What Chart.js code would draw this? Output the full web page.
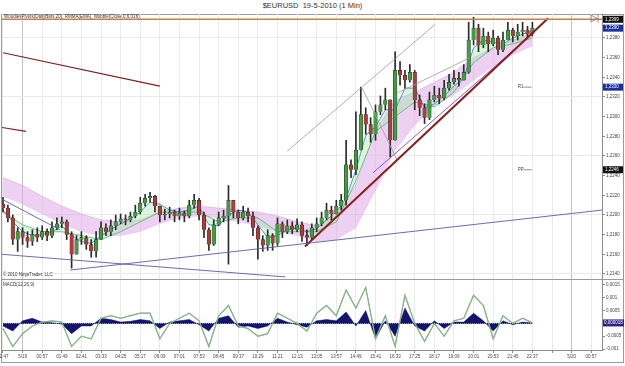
<!DOCTYPE html>
<html>
<head>
<meta charset="utf-8">
<script src="https://cdn.jsdelivr.net/npm/chart.js@4.4.1/dist/chart.umd.min.js"></script>
<style>
  body { margin: 0; background: #fff; font-family: "Liberation Sans", Arial, sans-serif; }
  #wrap { position: relative; width: 625px; height: 366px; overflow: hidden; }
  .txt { position: absolute; white-space: nowrap; color: #333; line-height: 1; }
  canvas { position: absolute; left: 0; }
</style>
</head>
<body>
<div id="wrap">
  <div style="position:absolute;left:1px;top:14px;width:621px;height:347px;border:1px solid #9a9a9a;"></div>
  <div style="position:absolute;left:1px;top:279px;width:623px;height:1px;background:#9a9a9a;"></div>
  <canvas id="price" width="625" height="265" style="top:14px"></canvas>
  <canvas id="macd" width="625" height="86" style="top:280px"></canvas>
  <div class="txt" style="left:0;top:2px;width:625px;text-align:center;font-size:7.5px;">$EURUSD&nbsp; 19-5-2010 (1 Min)</div>
  <div class="txt" style="left:4px;top:15px;font-size:4.5px;">WoodiesPivots(DailyBars,20), RMMA(EMA), Wobble(Close,0,6,036)</div>
  <div class="txt" style="left:3px;top:273px;font-size:4.5px;">© 2010 NinjaTrader, LLC</div>
  <div class="txt" style="left:3px;top:283px;font-size:4.5px;">MACD(12,26,9)</div>
</div>
<script>
// time axis labels, one every 4 bars
const timeLabels = ['22:47','5/19','00:57','01:49','02:41','03:33','04:25','05:17','06:09','07:01',
  '07:53','08:45','09:37','10:29','11:21','12:13','13:05','13:57','14:49','15:41',
  '16:33','17:25','18:17','19:09','20:01','20:53','21:45','22:37','','5/20','00:57'];
const dayBreaks = [4, 116];

// price bars (13 min each)
const opens = [1.2211,1.2207,1.2197,1.2175,1.2183,1.2177,1.2173,1.2180,1.2177,1.2183,
  1.2179,1.2187,1.2191,1.2193,1.2180,1.2160,1.2175,1.2177,1.2170,1.2163,
  1.2175,1.2187,1.2183,1.2189,1.2193,1.2196,1.2195,1.2199,1.2203,1.2212,
  1.2217,1.2219,1.2209,1.2200,1.2201,1.2203,1.2199,1.2202,1.2199,1.2210,
  1.2215,1.2200,1.2185,1.2170,1.2190,1.2197,1.2199,1.2215,1.2203,1.2197,
  1.2203,1.2199,1.2187,1.2175,1.2169,1.2179,1.2171,1.2191,1.2183,1.2189,
  1.2185,1.2190,1.2179,1.2177,1.2187,1.2191,1.2197,1.2205,1.2201,1.2209,
  1.2215,1.2251,1.2246,1.2266,1.2302,1.2292,1.2282,1.2305,1.2312,1.2317,
  1.2276,1.2347,1.2342,1.2337,1.2345,1.2317,1.2309,1.2299,1.2317,1.2322,
  1.2319,1.2329,1.2335,1.2339,1.2337,1.2345,1.2378,1.2390,1.2373,1.2382,
  1.2374,1.2380,1.2368,1.2378,1.2388,1.2382,1.2386,1.2388,1.2384];
const highs = [1.2218,1.2210,1.2200,1.2187,1.2187,1.2183,1.2185,1.2187,1.2189,1.2186,
  1.2193,1.2197,1.2198,1.2195,1.2183,1.2179,1.2183,1.2179,1.2175,1.2183,
  1.2193,1.2191,1.2195,1.2200,1.2201,1.2200,1.2203,1.2210,1.2218,1.2221,
  1.2223,1.2220,1.2209,1.2206,1.2208,1.2205,1.2207,1.2204,1.2215,1.2221,
  1.2217,1.2203,1.2187,1.2195,1.2203,1.2205,1.2230,1.2215,1.2205,1.2209,
  1.2207,1.2203,1.2189,1.2179,1.2185,1.2181,1.2197,1.2193,1.2195,1.2193,
  1.2196,1.2193,1.2185,1.2191,1.2197,1.2203,1.2212,1.2209,1.2215,1.2221,
  1.2276,1.2256,1.2305,1.2330,1.2309,1.2299,1.2312,1.2321,1.2329,1.2317,
  1.2366,1.2356,1.2347,1.2353,1.2347,1.2322,1.2313,1.2325,1.2331,1.2329,
  1.2337,1.2343,1.2347,1.2345,1.2353,1.2396,1.2401,1.2394,1.2390,1.2386,
  1.2388,1.2382,1.2386,1.2396,1.2390,1.2394,1.2396,1.2392,1.2396];
const lows = [1.2203,1.2193,1.2170,1.2163,1.2170,1.2167,1.2169,1.2173,1.2175,1.2174,
  1.2177,1.2185,1.2187,1.2175,1.2146,1.2160,1.2170,1.2165,1.2157,1.2157,
  1.2175,1.2179,1.2179,1.2185,1.2191,1.2190,1.2193,1.2197,1.2201,1.2209,
  1.2213,1.2203,1.2193,1.2195,1.2197,1.2193,1.2195,1.2193,1.2197,1.2207,
  1.2195,1.2177,1.2164,1.2169,1.2189,1.2193,1.2150,1.2197,1.2191,1.2195,
  1.2193,1.2179,1.2155,1.2163,1.2164,1.2164,1.2169,1.2177,1.2181,1.2181,
  1.2183,1.2173,1.2169,1.2175,1.2183,1.2189,1.2195,1.2195,1.2201,1.2205,
  1.2210,1.2238,1.2241,1.2266,1.2282,1.2274,1.2276,1.2302,1.2307,1.2259,
  1.2276,1.2332,1.2329,1.2335,1.2307,1.2301,1.2293,1.2297,1.2315,1.2313,
  1.2317,1.2327,1.2333,1.2331,1.2337,1.2344,1.2373,1.2366,1.2370,1.2366,
  1.2372,1.2363,1.2366,1.2378,1.2376,1.2378,1.2382,1.2380,1.2382];
const closes = [1.2207,1.2197,1.2175,1.2183,1.2177,1.2173,1.2180,1.2177,1.2183,1.2179,
  1.2187,1.2191,1.2193,1.2180,1.2160,1.2175,1.2177,1.2170,1.2163,1.2175,
  1.2187,1.2183,1.2189,1.2193,1.2196,1.2195,1.2199,1.2203,1.2212,1.2217,
  1.2219,1.2209,1.2200,1.2201,1.2203,1.2199,1.2202,1.2199,1.2210,1.2215,
  1.2200,1.2185,1.2170,1.2190,1.2197,1.2199,1.2215,1.2203,1.2197,1.2203,
  1.2199,1.2187,1.2175,1.2169,1.2179,1.2171,1.2191,1.2183,1.2189,1.2185,
  1.2190,1.2179,1.2177,1.2187,1.2191,1.2197,1.2205,1.2201,1.2209,1.2215,
  1.2251,1.2246,1.2266,1.2302,1.2292,1.2282,1.2305,1.2312,1.2317,1.2276,
  1.2347,1.2342,1.2337,1.2345,1.2317,1.2309,1.2299,1.2317,1.2322,1.2319,
  1.2329,1.2335,1.2339,1.2337,1.2345,1.2378,1.2390,1.2373,1.2382,1.2374,
  1.2380,1.2368,1.2378,1.2388,1.2382,1.2386,1.2388,1.2384,1.2390];

// ribbon averages: fast one every 2 bars, slow one and the band every 4 bars
const maFast = [1.2205,1.2193,1.2183,1.2179,1.2180,1.2183,1.2189,1.2179,1.2173,1.2171,
  1.2179,1.2185,1.2191,1.2196,1.2203,1.2213,1.2211,1.2205,1.2203,1.2205,
  1.2209,1.2190,1.2189,1.2200,1.2205,1.2203,1.2190,1.2177,1.2179,1.2185,
  1.2187,1.2183,1.2186,1.2195,1.2203,1.2217,1.2246,1.2281,1.2290,1.2307,
  1.2307,1.2329,1.2329,1.2309,1.2313,1.2321,1.2331,1.2339,1.2370,1.2378,
  1.2376,1.2374,1.2380,1.2384,1.2387];
const maSlow = [1.2203,1.2190,1.2183,1.2183,1.2179,1.2175,1.2183,1.2193,1.2203,1.2203,
  1.2203,1.2193,1.2197,1.2197,1.2183,1.2183,1.2183,1.2193,1.2235,1.2285,
  1.2300,1.2315,1.2310,1.2325,1.2355,1.2370,1.2374,1.2380];
const bandUpper = [1.2238,1.2230,1.2219,1.2209,1.2201,1.2195,1.2193,1.2195,1.2203,1.2207,
  1.2209,1.2207,1.2205,1.2203,1.2199,1.2193,1.2189,1.2200,1.2231,1.2286,
  1.2317,1.2325,1.2335,1.2345,1.2360,1.2370,1.2378,1.2384];
const bandLower = [1.2219,1.2211,1.2201,1.2191,1.2183,1.2179,1.2179,1.2183,1.2191,1.2197,
  1.2199,1.2197,1.2193,1.2189,1.2183,1.2179,1.2173,1.2175,1.2187,1.2225,
  1.2266,1.2291,1.2311,1.2322,1.2337,1.2351,1.2363,1.2372];

// MACD, one value every 2 bars
const macdLine = [-0.0002,-0.0009,-0.0004,-0.0001,0.00005,0.0001,0.00005,-0.0009,-0.0005,-0.0006,
  0.0002,0.0003,0.0002,0.0003,0.0004,0.0004,-0.0006,0,0.0002,0.0004,
  0.0001,-0.0009,0.0003,0.0007,-0.0001,-0.0002,-0.0005,-0.0004,0.0004,0.0002,
  0,-0.0003,0.0004,0.0007,0.0003,0.0013,0.0006,0.0014,-0.0006,0.0003,
  -0.0009,0.0011,0,-0.0007,0,-0.0005,0.0001,0.0002,0.0011,0.0007,
  -0.0006,0.0003,0,0.0002,0.00002];
const macdHist = [-0.0001,-0.0003,0.0001,0.0002,0.00005,0.00003,-0.00003,-0.0004,-0.0001,-0.0001,
  0.0002,0.00015,0.00005,0.00008,0.00015,0.0001,-0.0002,0.00005,0.0001,0.00015,
  -0.00005,-0.0003,0.0002,0.0003,-0.00015,-0.0001,-0.0002,-0.0001,0.0002,0.00005,
  -0.00005,-0.00015,0.0001,0.00015,0.0001,0.00045,-0.0001,0.0005,-0.0006,0.0001,
  -0.0005,0.0006,-0.0001,-0.0003,0.0001,-0.0002,0.00005,0.00005,0.0004,0.0001,
  -0.0003,0.0001,-0.00005,0.00005,0.00002];

// drawn lines: [bar, price] start and end
const trendFrom = [[-1,1.2399],[0,1.2365],[-0.2,1.2289],[-0.2,1.2216],[-0.2,1.2160],[13.7,1.2144],
  [61.6,1.2168],[58,1.2265],[75.5,1.2243],[80.4,1.2324],[73.3,1.2329]];
const trendTo = [[124,1.2399],[32,1.2331],[4.7,1.2285],[11.6,1.2185],[57.6,1.2137],[122.2,1.2205],
  [111.2,1.2400],[88.2,1.2394],[108.2,1.2385],[95.3,1.2360],[80.4,1.2256]];
const trendColors = ['#cf7d42','#7d1f1f','#7d1f1f','#5d5aa6','#5d5aa6','#5d5aa6',
  '#8b1c1c','#9a9a9a','#8a5cc8','#9a9a9a','#9a9a9a'];
const trendWidths = [1.6,1.2,1.2,0.9,0.9,0.9,2,0.8,1,0.8,0.8];

const pivotNames = ['R1', 'PP'];
const pivotValues = [1.2330, 1.2246];
const tagValues = [1.2399, 1.2390, 1.2330, 1.2246];
const tagColors = ['#111111', '#1c2f9e', '#1c2f9e', '#111111'];
const macdTagValue = 0.000018;

const xMin = -0.2, xMax = 122.2;
const tickFont = { family: '"Liberation Sans", Arial, sans-serif', size: 4.5 };
const fmt = v => String(v).replace('.', ',');

const gridX = c => c.tick && dayBreaks.includes(c.tick.value) ? '#c4c4c4' : '#e9e9e9';

const every = (arr, step) => arr.map((v, i) => ({ x: i * step, y: v }));

// price panel overlay: pivot labels, price tags, end marker
const priceOverlay = {
  id: 'priceOverlay',
  afterDraw(chart) {
    const { ctx, chartArea } = chart;
    const x = chart.scales.x, y = chart.scales.y;
    ctx.save();
    ctx.font = '4.5px "Liberation Sans", Arial';
    ctx.textBaseline = 'middle';
    pivotNames.forEach((name, i) => {
      const px = x.getPixelForValue(105), py = y.getPixelForValue(pivotValues[i]);
      ctx.fillStyle = '#444';
      ctx.fillText(name, px, py);
      ctx.strokeStyle = '#666';
      ctx.lineWidth = 0.7;
      ctx.beginPath(); ctx.moveTo(px + 6, py); ctx.lineTo(px + 14, py); ctx.stroke();
    });
    tagValues.forEach((v, i) => {
      const py = y.getPixelForValue(v);
      ctx.fillStyle = tagColors[i];
      ctx.fillRect(chartArea.right + 1, py - 3.5, 20, 7);
      ctx.fillStyle = '#fff';
      ctx.fillText(v.toFixed(4).replace('.', ','), chartArea.right + 3, py);
    });
    // scroll-to-end marker
    const r = chartArea.right;
    ctx.strokeStyle = '#777';
    ctx.lineWidth = 0.8;
    ctx.beginPath();
    ctx.moveTo(r - 11, 1); ctx.lineTo(r - 5, 4.5); ctx.lineTo(r - 11, 8); ctx.closePath();
    ctx.moveTo(r - 4, 0.5); ctx.lineTo(r - 4, 8.5);
    ctx.stroke();
    ctx.restore();
  }
};

const macdOverlay = {
  id: 'macdOverlay',
  afterDraw(chart) {
    const { ctx, chartArea } = chart;
    const py = chart.scales.y.getPixelForValue(macdTagValue);
    ctx.save();
    ctx.font = '4.5px "Liberation Sans", Arial';
    ctx.textBaseline = 'middle';
    ctx.fillStyle = '#2e1f86';
    ctx.fillRect(chartArea.right + 1, py - 3.5, 21, 7);
    ctx.fillStyle = '#fff';
    ctx.fillText(fmt(macdTagValue.toFixed(6)), chartArea.right + 2, py);
    ctx.restore();
  }
};

const trendSets = trendFrom.map((a, i) => ({
  type: 'line',
  data: [{ x: a[0], y: a[1] }, { x: trendTo[i][0], y: trendTo[i][1] }],
  borderColor: trendColors[i],
  borderWidth: trendWidths[i],
  pointRadius: 0,
  order: 1
}));

new Chart(document.getElementById('price'), {
  type: 'bar',
  data: {
    datasets: [
      { type: 'line', data: every(bandUpper, 4), borderColor: 'rgba(200,140,215,0.7)', borderWidth: 0.6,
        backgroundColor: 'rgba(222,170,232,0.55)', fill: '+1', pointRadius: 0, order: 10 },
      { type: 'line', data: every(bandLower, 4), borderColor: 'rgba(230,190,235,0.6)', borderWidth: 0.5,
        pointRadius: 0, order: 10 },
      { type: 'line', data: every(maFast, 2), borderColor: '#2f7fc8', borderWidth: 0.8,
        backgroundColor: 'rgba(165,232,165,0.4)', fill: '+1', pointRadius: 0, order: 8 },
      { type: 'line', data: every(maSlow, 4), borderColor: '#3aa86a', borderWidth: 0.8, pointRadius: 0, order: 8 },
      { data: closes.map((c, i) => ({ x: i, y: [lows[i], highs[i]] })), backgroundColor: '#2b2b2b',
        barThickness: 1, grouped: false, order: 5 },
      { data: closes.map((c, i) => ({ x: i, y: [opens[i], c] })),
        backgroundColor: closes.map((c, i) => c >= opens[i] ? '#3f9f3f' : '#b33a3a'),
        borderColor: '#222', borderWidth: 0.5, barThickness: 3.5, grouped: false, order: 4 },
      ...trendSets
    ]
  },
  options: {
    responsive: false,
    animation: false,
    layout: { padding: { left: 2, right: 0, top: 0, bottom: 0 } },
    plugins: { legend: { display: false }, tooltip: { enabled: false } },
    scales: {
      x: {
        type: 'linear', min: xMin, max: xMax, offset: false,
        ticks: { display: false, stepSize: 4, includeBounds: false },
        grid: { color: gridX, drawTicks: false, offset: false },
        border: { display: false },
        afterFit: s => { s.height = 0; s.paddingLeft = 0; s.paddingRight = 0; }
      },
      y: {
        position: 'right', min: 1.21349, max: 1.24044,
        ticks: { stepSize: 0.002, includeBounds: false, font: tickFont, color: '#444', padding: 1,
          callback: v => v.toFixed(4).replace('.', ',') },
        grid: {
          color: c => c.tick && Math.round((c.tick.value - 1.214) / 0.002) % 3 === 0 ? '#e9e9e9' : 'rgba(0,0,0,0)',
          tickLength: 3, tickColor: '#888'
        },
        border: { color: '#8c8c8c' },
        afterFit: s => { s.width = 23; s.paddingTop = 0; s.paddingBottom = 0; }
      }
    }
  },
  plugins: [priceOverlay]
});

new Chart(document.getElementById('macd'), {
  type: 'bar',
  data: {
    datasets: [
      { type: 'line', data: every(macdHist, 2), borderColor: '#14146e', borderWidth: 0.5,
        backgroundColor: '#14146e', fill: 'origin', pointRadius: 0, order: 4 },
      { type: 'line', data: [{ x: 0, y: 0 }, { x: 108, y: 0 }], borderColor: '#222', borderWidth: 1,
        borderDash: [1, 1], pointRadius: 0, order: 3 },
      { type: 'line', data: every(macdLine, 2), borderColor: '#6fb86f', borderWidth: 1.3, pointRadius: 0, order: 2 },
      { type: 'line', data: every(macdLine, 2), borderColor: '#a6aca6', borderWidth: 0.6, pointRadius: 0, order: 1 }
    ]
  },
  options: {
    responsive: false,
    animation: false,
    layout: { padding: { left: 2, right: 0, top: 0, bottom: 0 } },
    plugins: { legend: { display: false }, tooltip: { enabled: false } },
    scales: {
      x: {
        type: 'linear', min: xMin, max: xMax, offset: false,
        ticks: { stepSize: 4, includeBounds: false, autoSkip: false, maxRotation: 0, font: tickFont,
          color: '#444', padding: 1, callback: v => timeLabels[v / 4] ?? '' },
        grid: { color: gridX, tickLength: 3, tickColor: '#888', offset: false },
        border: { color: '#8c8c8c' },
        afterFit: s => { s.height = 16; s.paddingLeft = 0; s.paddingRight = 0; }
      },
      y: {
        position: 'right', min: -0.001039, max: 0.001695,
        ticks: { stepSize: 0.0005, includeBounds: false, font: tickFont, color: '#444', padding: 1,
          callback: v => Math.abs(v) < 1e-9 ? '' : fmt(v) },
        grid: { color: 'rgba(0,0,0,0)', tickLength: 3, tickColor: '#888' },
        border: { color: '#8c8c8c' },
        afterFit: s => { s.width = 23; s.paddingTop = 0; s.paddingBottom = 0; }
      }
    }
  },
  plugins: [macdOverlay]
});
</script>
</body>
</html>
